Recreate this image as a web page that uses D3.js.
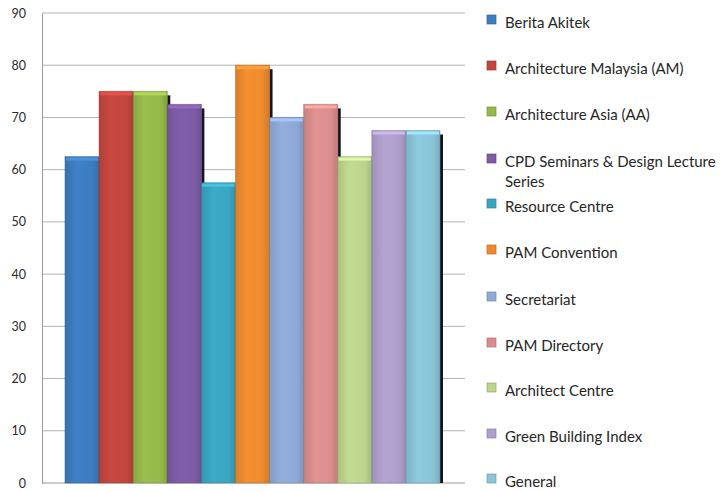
<!DOCTYPE html>
<html>
<head>
<meta charset="utf-8">
<script src="https://cdn.jsdelivr.net/npm/d3@7.9.0/dist/d3.min.js"></script>
<style>
  body { margin: 0; background: #fff; }
  svg { display: block; }
</style>
</head>
<body>
<svg width="720" height="492"></svg>
<script>
// survey categories (legend order = bar order)
const categories = [
  'Berita Akitek', 'Architecture Malaysia (AM)', 'Architecture Asia (AA)',
  'CPD Seminars & Design Lecture Series', 'Resource Centre', 'PAM Convention',
  'Secretariat', 'PAM Directory', 'Architect Centre', 'Green Building Index', 'General'
];
const values = [62.5, 75, 75, 72.5, 57.5, 80, 70, 72.5, 62.5, 67.5, 67.5];
const colors = ['#3d7cc0', '#c2463e', '#95b84a', '#7d5ba4', '#3aa5c1', '#ec8b2e',
                '#8ea9d6', '#d98e8d', '#bcd48c', '#ae9ecb', '#89c4d7'];
const yTicks = [0, 10, 20, 30, 40, 50, 60, 70, 80, 90];

const svg = d3.select('svg');
const plot = { left: 42, right: 465, top: 13, bottom: 483 };

const y = d3.scaleLinear().domain([0, 90]).range([plot.bottom, plot.top]);
const x = d3.scaleBand().domain(categories).range([65, 440]).padding(0);

// gridlines
svg.append('g').selectAll('line')
  .data(yTicks.filter(t => t > 0))
  .join('line')
  .attr('x1', plot.left).attr('x2', plot.right)
  .attr('y1', d => y(d)).attr('y2', d => y(d))
  .attr('stroke', '#b3b3b3').attr('stroke-width', 1);

// axes
const yAxis = svg.append('g')
  .attr('transform', `translate(${plot.left},0)`)
  .call(d3.axisLeft(y).tickValues(yTicks).tickSize(0).tickPadding(16));
yAxis.select('.domain').attr('stroke', '#9a9a9a');
yAxis.selectAll('text')
  .style('font-family', 'Lato, sans-serif').style('font-size', '12.5px').attr('fill', '#2a2a2a');

svg.append('line')
  .attr('x1', plot.left).attr('x2', plot.right)
  .attr('y1', plot.bottom).attr('y2', plot.bottom)
  .attr('stroke', '#9a9a9a');

// gradients for the bars
const defs = svg.append('defs');
colors.forEach((c, i) => {
  const g = defs.append('linearGradient').attr('id', 'g' + i)
    .attr('x1', '0%').attr('x2', '100%').attr('y1', '0%').attr('y2', '0%');
  const base = d3.color(c);
  g.append('stop').attr('offset', '0%').attr('stop-color', base.darker(0.25));
  g.append('stop').attr('offset', '35%').attr('stop-color', base.brighter(0.1));
  g.append('stop').attr('offset', '80%').attr('stop-color', base);
  g.append('stop').attr('offset', '100%').attr('stop-color', base.darker(0.35));
});

// dark side shadows (covered by the next bar where it is taller)
svg.append('g').selectAll('rect')
  .data(categories)
  .join('rect')
  .attr('x', d => x(d) + x.bandwidth())
  .attr('y', (d, i) => y(values[i]) + 4)
  .attr('width', 3)
  .attr('height', (d, i) => y(0) - y(values[i]) - 4)
  .attr('fill', '#151520');

// bars
const bars = svg.append('g').selectAll('g')
  .data(categories)
  .join('g');

bars.append('rect')
  .attr('x', d => x(d))
  .attr('y', (d, i) => y(values[i]))
  .attr('width', x.bandwidth())
  .attr('height', (d, i) => y(0) - y(values[i]))
  .attr('fill', (d, i) => `url(#g${i})`)
  .attr('stroke', (d, i) => d3.color(colors[i]).darker(0.8))
  .attr('stroke-opacity', 0.5)
  .attr('stroke-width', 1);

// light top cap
bars.append('rect')
  .attr('x', d => x(d) + 1)
  .attr('y', (d, i) => y(values[i]) + 1)
  .attr('width', x.bandwidth() - 2)
  .attr('height', 3)
  .attr('fill', (d, i) => d3.color(colors[i]).brighter(0.45));

// legend
const legend = svg.append('g').attr('transform', 'translate(487,0)');
const legendY = [23, 69, 115, 162, 207, 253, 300, 346, 391, 437, 482];
const items = legend.selectAll('g')
  .data(categories)
  .join('g')
  .attr('transform', (d, i) => `translate(0,${legendY[i]})`);

items.append('rect')
  .attr('x', 0).attr('y', -8)
  .attr('width', 9).attr('height', 9)
  .attr('fill', (d, i) => colors[i])
  .attr('stroke', (d, i) => d3.color(colors[i]).darker(0.6))
  .attr('stroke-width', 0.7);

items.append('text')
  .attr('x', 18).attr('y', 5)
  .style('font-family', 'Lato, sans-serif').style('font-size', '15px')
  .attr('fill', '#262626')
  .each(function (d) {
    const t = d3.select(this);
    const words = d.split(' ');
    let line = [];
    let tspan = t.append('tspan').attr('x', 18);
    words.forEach(w => {
      line.push(w);
      tspan.text(line.join(' '));
      if (tspan.node().getComputedTextLength() > 228 && line.length > 1) {
        line.pop();
        tspan.text(line.join(' '));
        line = [w];
        tspan = t.append('tspan').attr('x', 18).attr('dy', 20).text(w);
      }
    });
  });
</script>
</body>
</html>
